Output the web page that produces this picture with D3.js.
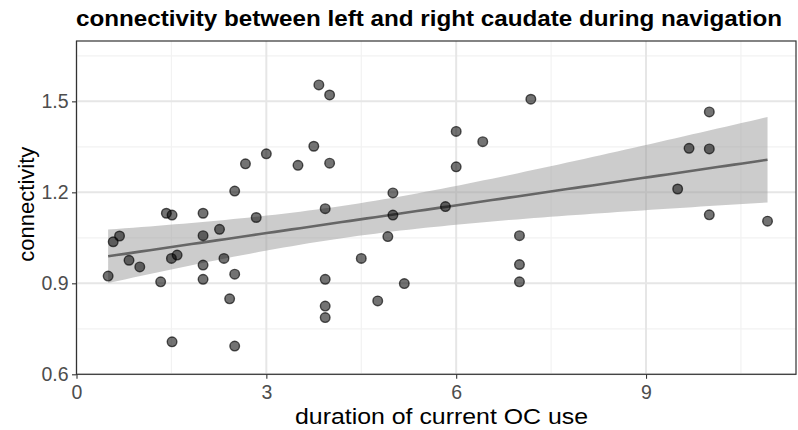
<!DOCTYPE html>
<html><head><meta charset="utf-8">
<script src="https://cdn.jsdelivr.net/npm/d3@7"></script>
<style>body{margin:0;background:#fff}svg{display:block}</style>
</head><body>
<svg id="c" width="798" height="430"></svg>
<script>
const durationX = [0.50,0.58,0.68,0.83,1.00,1.33,1.42,1.51,1.50,1.59,1.51,2.00,2.00,2.00,2.00,2.26,2.33,2.42,2.50,2.50,2.50,2.67,2.84,3.00,3.50,3.75,3.83,4.00,4.00,3.93,3.93,3.93,3.93,4.50,4.76,4.92,5.00,5.00,5.18,5.83,6.00,6.00,6.42,7.00,7.00,7.00,7.18,10.00,9.68,10.00,9.50,10.00,10.92];
const connectivityY = [0.924,1.037,1.056,0.976,0.954,0.905,1.131,1.125,0.982,0.993,0.707,1.131,1.057,0.960,0.913,1.078,0.982,0.849,1.204,0.930,0.693,1.294,1.117,1.327,1.289,1.352,1.554,1.521,1.296,1.146,0.913,0.825,0.787,0.982,0.842,1.054,1.198,1.125,0.899,1.153,1.401,1.284,1.367,1.057,0.962,0.905,1.507,1.465,1.345,1.343,1.211,1.126,1.105];
const xTicks = [0,3,6,9];
const xMinor = [1.5,4.5,7.5,10.5];
const yTicks = [0.6,0.9,1.2,1.5];
const yMinor = [0.75,1.05,1.35,1.65];
const titleText = "connectivity between left and right caudate during navigation";
const xTitle = "duration of current OC use";
const yTitle = "connectivity";

const L=76.5, R=796, T=41, B=374.3;
const svg = d3.select("#c");
const x = d3.scaleLinear().domain([0,11.37]).range([L,R]);
const y = d3.scaleLinear().domain([0.6,1.699]).range([B,T]);
const font = "'Liberation Sans', Arial, Helvetica, sans-serif";

// grid
const g = svg.append("g");
g.selectAll(".xmin").data(xMinor).enter().append("line")
 .attr("x1",d=>x(d)).attr("x2",d=>x(d)).attr("y1",T).attr("y2",B).attr("stroke","#f2f2f2").attr("stroke-width",1.2);
g.selectAll(".ymin").data(yMinor).enter().append("line")
 .attr("y1",d=>y(d)).attr("y2",d=>y(d)).attr("x1",L).attr("x2",R).attr("stroke","#f2f2f2").attr("stroke-width",1.2);
g.selectAll(".xmaj").data(xTicks).enter().append("line")
 .attr("x1",d=>x(d)).attr("x2",d=>x(d)).attr("y1",T).attr("y2",B).attr("stroke","#e6e6e6").attr("stroke-width",2);
g.selectAll(".ymaj").data(yTicks).enter().append("line")
 .attr("y1",d=>y(d)).attr("y2",d=>y(d)).attr("x1",L).attr("x2",R).attr("stroke","#e6e6e6").attr("stroke-width",2);

// linear fit with 95% CI
const n = durationX.length;
const mx = d3.mean(durationX), my = d3.mean(connectivityY);
let sxx=0, sxy=0;
for (let i=0;i<n;i++){ sxx+=(durationX[i]-mx)**2; sxy+=(durationX[i]-mx)*(connectivityY[i]-my); }
const b1 = sxy/sxx, b0 = my-b1*mx;
let sse=0; for (let i=0;i<n;i++){ sse+=(connectivityY[i]-b0-b1*durationX[i])**2; }
const s = Math.sqrt(sse/(n-2));
const tq = 2.008;
const [xmin,xmax] = d3.extent(durationX);
const grid = d3.range(80).map(i=>xmin+(xmax-xmin)*i/79);
const band = grid.map(v=>{const f=b0+b1*v; const se=s*Math.sqrt(1/n+(v-mx)**2/sxx); return {v,f,lo:f-tq*se,hi:f+tq*se};});
svg.append("path").datum(band)
 .attr("d", d3.area().x(d=>x(d.v)).y0(d=>y(d.lo)).y1(d=>y(d.hi)))
 .attr("fill","#999999").attr("fill-opacity",0.5);
svg.append("path").datum(band)
 .attr("d", d3.line().x(d=>x(d.v)).y(d=>y(d.f)))
 .attr("fill","none").attr("stroke","#666666").attr("stroke-width",2.6);

// points
svg.selectAll(".pt").data(durationX).enter().append("circle")
 .attr("cx",d=>x(d)).attr("cy",(d,i)=>y(connectivityY[i])).attr("r",4.8)
 .attr("fill","rgba(0,0,0,0.55)").attr("stroke","rgba(0,0,0,0.65)").attr("stroke-width",1.4);

// border
svg.append("rect").attr("x",L).attr("y",T).attr("width",R-L).attr("height",B-T)
 .attr("fill","none").attr("stroke","#333333").attr("stroke-width",1.2);

// axes
const xa = svg.append("g").attr("transform",`translate(0,${B})`)
 .call(d3.axisBottom(x).tickValues(xTicks).tickSize(4.5).tickPadding(6.6).tickFormat(d3.format("d")));
const ya = svg.append("g").attr("transform",`translate(${L},0)`)
 .call(d3.axisLeft(y).tickValues(yTicks).tickSize(4.5).tickPadding(3.5).tickFormat(d3.format(".1f")));
[xa,ya].forEach(a=>{
  a.select(".domain").remove();
  a.selectAll(".tick line").attr("stroke","#333333").attr("stroke-width",1.1);
  a.selectAll(".tick text").attr("fill","#4d4d4d").style("font-family",font).style("font-size","19.5px");
});

svg.append("text").attr("x",429).attr("y",25.5).attr("text-anchor","middle")
 .attr("textLength",706).attr("lengthAdjust","spacingAndGlyphs")
 .style("font-family",font).style("font-size","22px").style("font-weight","bold").text(titleText);
svg.append("text").attr("x",441.5).attr("y",423.5).attr("text-anchor","middle")
 .attr("textLength",293).attr("lengthAdjust","spacingAndGlyphs")
 .style("font-family",font).style("font-size","21.5px").text(xTitle);
svg.append("text").attr("transform",`translate(34,204.2) rotate(-90)`).attr("text-anchor","middle")
 .style("font-family",font).style("font-size","22px").text(yTitle);
</script>
</body></html>
